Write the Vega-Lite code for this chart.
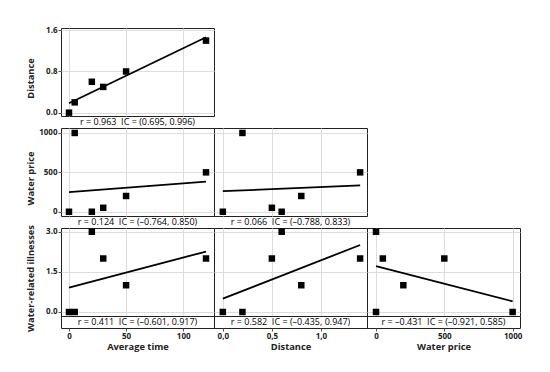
{
  "$schema": "https://vega.github.io/schema/vega-lite/v6.json",
  "padding": {"left": 25, "top": 25, "right": 5, "bottom": 5},
  "background": "white",
  "datasets": {
    "d": [
      {"avg_time": 0, "distance": 0, "water_price": 0, "illnesses": 0},
      {"avg_time": 5, "distance": 0.2, "water_price": 1000, "illnesses": 0},
      {"avg_time": 20, "distance": 0.6, "water_price": 0, "illnesses": 3},
      {"avg_time": 30, "distance": 0.5, "water_price": 50, "illnesses": 2},
      {"avg_time": 50, "distance": 0.8, "water_price": 200, "illnesses": 1},
      {"avg_time": 120, "distance": 1.4, "water_price": 500, "illnesses": 2}
    ]
  },
  "columns": 3,
  "spacing": 0,
  "bounds": "flush",
  "concat": [
    {
      "width": 153, "height": 88,
      "data": {"name": "d"},
      "encoding": {
        "x": {"field": "avg_time", "type": "quantitative", "scale": {"domain": [-7, 127], "nice": false, "zero": false}, "axis": {"values": [0, 50, 100], "grid": true, "labels": false, "ticks": false, "domain": false, "title": null}},
        "y": {"field": "distance", "type": "quantitative", "scale": {"domain": [-0.065, 1.645], "nice": false, "zero": false}, "axis": {"values": [0, 0.8, 1.6], "format": ".1f", "grid": true, "domain": false, "title": "Distance", "titleX": -31, "titleY": 50, "titleBaseline": "middle"}}
      },
      "layer": [
        {"mark": {"type": "square", "size": 42, "color": "black", "opacity": 1}},
        {"transform": [{"regression": "distance", "on": "avg_time"}], "mark": {"type": "line", "color": "black", "strokeWidth": 1.8}}
      ]
    },
    {"width": 153, "height": 88, "data": {"values": [{}]}, "mark": {"type": "point", "opacity": 0}, "view": {"stroke": null}},
    {"width": 153, "height": 88, "data": {"values": [{}]}, "mark": {"type": "point", "opacity": 0}, "view": {"stroke": null}},

    {
      "width": 153, "height": 12,
      "data": {"values": [{"label": "r = 0.963 \u00a0IC = (0.695, 0.996)"}]},
      "mark": {"type": "text", "fontSize": 9, "color": "black"},
      "encoding": {"text": {"field": "label", "type": "nominal"}}
    },
    {"width": 153, "height": 12, "data": {"values": [{}]}, "mark": {"type": "point", "opacity": 0}, "view": {"stroke": null}},
    {"width": 153, "height": 12, "data": {"values": [{}]}, "mark": {"type": "point", "opacity": 0}, "view": {"stroke": null}},

    {
      "width": 153, "height": 88,
      "data": {"name": "d"},
      "encoding": {
        "x": {"field": "avg_time", "type": "quantitative", "scale": {"domain": [-7, 127], "nice": false, "zero": false}, "axis": {"values": [0, 50, 100], "grid": true, "labels": false, "ticks": false, "domain": false, "title": null}},
        "y": {"field": "water_price", "type": "quantitative", "scale": {"domain": [-54, 1063], "nice": false, "zero": false}, "axis": {"values": [0, 500, 1000], "format": "d", "grid": true, "domain": false, "title": "Water price", "titleX": -31, "titleY": 50, "titleBaseline": "middle"}}
      },
      "layer": [
        {"mark": {"type": "square", "size": 42, "color": "black", "opacity": 1}},
        {"transform": [{"regression": "water_price", "on": "avg_time"}], "mark": {"type": "line", "color": "black", "strokeWidth": 1.8}}
      ]
    },
    {
      "width": 153, "height": 88,
      "data": {"name": "d"},
      "encoding": {
        "x": {"field": "distance", "type": "quantitative", "scale": {"domain": [-0.09, 1.47], "nice": false, "zero": false}, "axis": {"values": [0, 0.5, 1], "grid": true, "labels": false, "ticks": false, "domain": false, "title": null}},
        "y": {"field": "water_price", "type": "quantitative", "scale": {"domain": [-54, 1063], "nice": false, "zero": false}, "axis": {"values": [0, 500, 1000], "grid": true, "labels": false, "ticks": false, "domain": false, "title": null}}
      },
      "layer": [
        {"mark": {"type": "square", "size": 42, "color": "black", "opacity": 1}},
        {"transform": [{"regression": "water_price", "on": "distance"}], "mark": {"type": "line", "color": "black", "strokeWidth": 1.8}}
      ]
    },
    {"width": 153, "height": 88, "data": {"values": [{}]}, "mark": {"type": "point", "opacity": 0}, "view": {"stroke": null}},

    {
      "width": 153, "height": 12,
      "data": {"values": [{"label": "r = 0.124 \u00a0IC = (–0.764, 0.850)"}]},
      "mark": {"type": "text", "fontSize": 9, "color": "black"},
      "encoding": {"text": {"field": "label", "type": "nominal"}}
    },
    {
      "width": 153, "height": 12,
      "data": {"values": [{"label": "r = 0.066 \u00a0IC = (–0.788, 0.833)"}]},
      "mark": {"type": "text", "fontSize": 9, "color": "black"},
      "encoding": {"text": {"field": "label", "type": "nominal"}}
    },
    {"width": 153, "height": 12, "data": {"values": [{}]}, "mark": {"type": "point", "opacity": 0}, "view": {"stroke": null}},

    {
      "width": 153, "height": 88,
      "data": {"name": "d"},
      "encoding": {
        "x": {"field": "avg_time", "type": "quantitative", "scale": {"domain": [-7, 127], "nice": false, "zero": false}, "axis": {"values": [0, 50, 100], "grid": true, "labels": false, "ticks": false, "domain": false, "title": null}},
        "y": {"field": "illnesses", "type": "quantitative", "scale": {"domain": [-0.15, 3.14], "nice": false, "zero": false}, "axis": {"values": [0, 1.5, 3], "format": ".1f", "grid": true, "domain": false, "title": "Water-related illnesses", "titleX": -31, "titleY": 50, "titleBaseline": "middle"}}
      },
      "layer": [
        {"mark": {"type": "square", "size": 42, "color": "black", "opacity": 1}},
        {"transform": [{"regression": "illnesses", "on": "avg_time"}], "mark": {"type": "line", "color": "black", "strokeWidth": 1.8}}
      ]
    },
    {
      "width": 153, "height": 88,
      "data": {"name": "d"},
      "encoding": {
        "x": {"field": "distance", "type": "quantitative", "scale": {"domain": [-0.09, 1.47], "nice": false, "zero": false}, "axis": {"values": [0, 0.5, 1], "grid": true, "labels": false, "ticks": false, "domain": false, "title": null}},
        "y": {"field": "illnesses", "type": "quantitative", "scale": {"domain": [-0.15, 3.14], "nice": false, "zero": false}, "axis": {"values": [0, 1.5, 3], "grid": true, "labels": false, "ticks": false, "domain": false, "title": null}}
      },
      "layer": [
        {"mark": {"type": "square", "size": 42, "color": "black", "opacity": 1}},
        {"transform": [{"regression": "illnesses", "on": "distance"}], "mark": {"type": "line", "color": "black", "strokeWidth": 1.8}}
      ]
    },
    {
      "width": 153, "height": 88,
      "data": {"name": "d"},
      "encoding": {
        "x": {"field": "water_price", "type": "quantitative", "scale": {"domain": [-66, 1054], "nice": false, "zero": false}, "axis": {"values": [0, 500, 1000], "grid": true, "labels": false, "ticks": false, "domain": false, "title": null}},
        "y": {"field": "illnesses", "type": "quantitative", "scale": {"domain": [-0.15, 3.14], "nice": false, "zero": false}, "axis": {"values": [0, 1.5, 3], "grid": true, "labels": false, "ticks": false, "domain": false, "title": null}}
      },
      "layer": [
        {"mark": {"type": "square", "size": 42, "color": "black", "opacity": 1}},
        {"transform": [{"regression": "illnesses", "on": "water_price"}], "mark": {"type": "line", "color": "black", "strokeWidth": 1.8}}
      ]
    },

    {
      "width": 153, "height": 12,
      "data": {"values": [{"label": "r = 0.411 \u00a0IC = (–0.601, 0.917)"}]},
      "mark": {"type": "text", "fontSize": 9, "color": "black"},
      "encoding": {
        "text": {"field": "label", "type": "nominal"},
        "x": {"datum": 60, "type": "quantitative", "scale": {"domain": [-7, 127], "nice": false, "zero": false}, "axis": {"values": [0, 50, 100], "format": "d", "grid": false, "domain": false, "title": "Average time"}}
      }
    },
    {
      "width": 153, "height": 12,
      "data": {"values": [{"label": "r = 0.582 \u00a0IC = (–0.435, 0.947)"}]},
      "mark": {"type": "text", "fontSize": 9, "color": "black"},
      "encoding": {
        "text": {"field": "label", "type": "nominal"},
        "x": {"datum": 0.69, "type": "quantitative", "scale": {"domain": [-0.09, 1.47], "nice": false, "zero": false}, "axis": {"values": [0, 0.5, 1], "labelExpr": "replace(format(datum.value, '.1f'), '.', ',')", "grid": false, "domain": false, "title": "Distance"}}
      }
    },
    {
      "width": 153, "height": 12,
      "data": {"values": [{"label": "r = –0.431 \u00a0IC = (–0.921, 0.585)"}]},
      "mark": {"type": "text", "fontSize": 9, "color": "black"},
      "encoding": {
        "text": {"field": "label", "type": "nominal"},
        "x": {"datum": 494, "type": "quantitative", "scale": {"domain": [-66, 1054], "nice": false, "zero": false}, "axis": {"values": [0, 500, 1000], "format": "d", "grid": false, "domain": false, "title": "Water price"}}
      }
    }
  ],
  "config": {
    "font": "Open Sans",
    "view": {"stroke": "#222222", "strokeWidth": 1},
    "text": {"font": "Open Sans"},
    "axis": {
      "gridColor": "#dddddd",
      "gridWidth": 1,
      "tickColor": "#555555",
      "tickSize": 3,
      "labelFont": "Open Sans",
      "labelFontSize": 8,
      "labelFontWeight": "bold",
      "labelColor": "#222222",
      "labelPadding": 1,
      "titleFont": "Open Sans",
      "titleFontSize": 9.3,
      "titleFontWeight": "bold",
      "titleColor": "#222222",
      "titlePadding": 2
    }
  }
}
